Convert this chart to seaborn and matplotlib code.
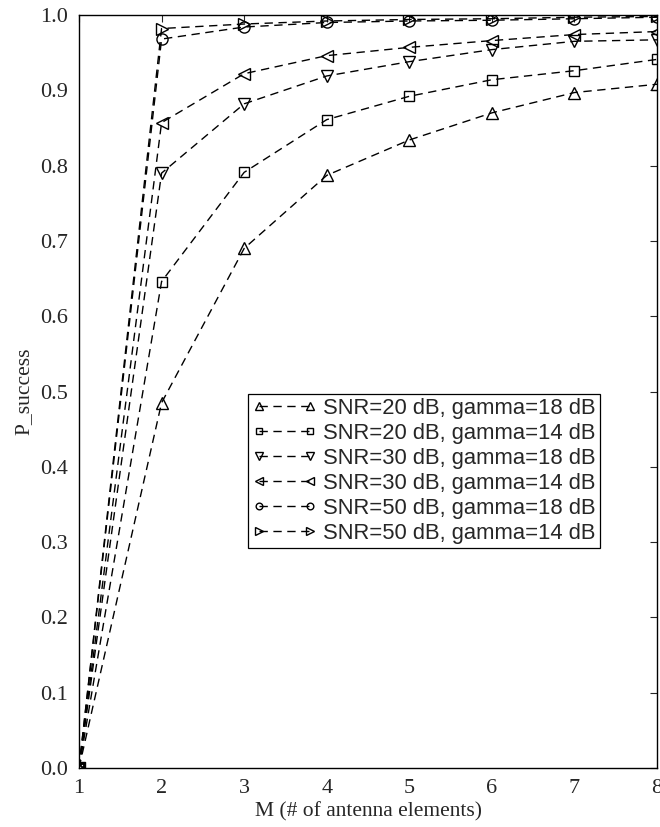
import matplotlib
matplotlib.use('Agg')
import matplotlib.pyplot as plt
import seaborn as sns
import pandas as pd

sns.set_style('white')
plt.rcParams['font.family'] = ['Liberation Serif', 'DejaVu Serif']

M = [1, 2, 3, 4, 5, 6, 7, 8]

snr20_g18 = [0.0, 0.485, 0.690, 0.787, 0.834, 0.870, 0.897, 0.908]
snr20_g14 = [0.0, 0.646, 0.791, 0.861, 0.892, 0.914, 0.926, 0.941]
snr30_g18 = [0.0, 0.790, 0.882, 0.919, 0.938, 0.954, 0.965, 0.967]
snr30_g14 = [0.0, 0.857, 0.922, 0.946, 0.957, 0.966, 0.974, 0.978]
snr50_g18 = [0.0, 0.968, 0.984, 0.990, 0.992, 0.993, 0.995, 0.997]
snr50_g14 = [0.0, 0.982, 0.988, 0.992, 0.994, 0.995, 0.997, 0.998]

labels = ['SNR=20 dB, gamma=18 dB', 'SNR=20 dB, gamma=14 dB',
          'SNR=30 dB, gamma=18 dB', 'SNR=30 dB, gamma=14 dB',
          'SNR=50 dB, gamma=18 dB', 'SNR=50 dB, gamma=14 dB']
series = [snr20_g18, snr20_g14, snr30_g18, snr30_g14, snr50_g18, snr50_g14]
markers = ['^', 's', 'v', '<', 'o', '>']
msizes = [9, 7, 9, 9, 8, 9]

fig = plt.figure(figsize=(6.6, 8.27), dpi=100)
ax = fig.add_axes([0.1197, 0.0713, 0.8758, 0.9106])

for lab, vals, mk, ms in zip(labels, series, markers, msizes):
    df = pd.DataFrame({'M': M, 'P': vals})
    sns.lineplot(data=df, x='M', y='P', ax=ax, color='black', marker=mk,
                 markersize=ms, markerfacecolor='none', markeredgecolor='black',
                 markeredgewidth=1.0, linewidth=1.0, linestyle=(0, (6, 4)),
                 label=lab)

ax.set_xlim(1, 8)
ax.set_ylim(0, 1.0)
ax.set_xticks(M)
ax.set_yticks([i / 10 for i in range(11)])
ax.set_yticklabels(['%.1f' % (i / 10) for i in range(11)])
ax.tick_params(direction='in', top=True, right=True, length=5, width=0.8,
               labelsize=16, pad=8)
for s in ax.spines.values():
    s.set_color('black')
    s.set_linewidth(1.0)
ax.set_xlabel('M (# of antenna elements)', fontsize=15.5, labelpad=3)
ax.set_ylabel('P_success', fontsize=15.5, labelpad=5)

leg = ax.legend(loc='lower left', bbox_to_anchor=(0.293, 0.292), borderaxespad=0,
                prop={'family': ['Liberation Sans', 'DejaVu Sans'], 'size': 15.8},
                frameon=True, fancybox=False, edgecolor='black', framealpha=1,
                handlelength=2.9, handletextpad=0.3, labelspacing=0.18,
                borderpad=0.2, numpoints=2, markerscale=0.6)
leg.get_frame().set_linewidth(0.9)

fig.savefig('out.png', dpi=100)
